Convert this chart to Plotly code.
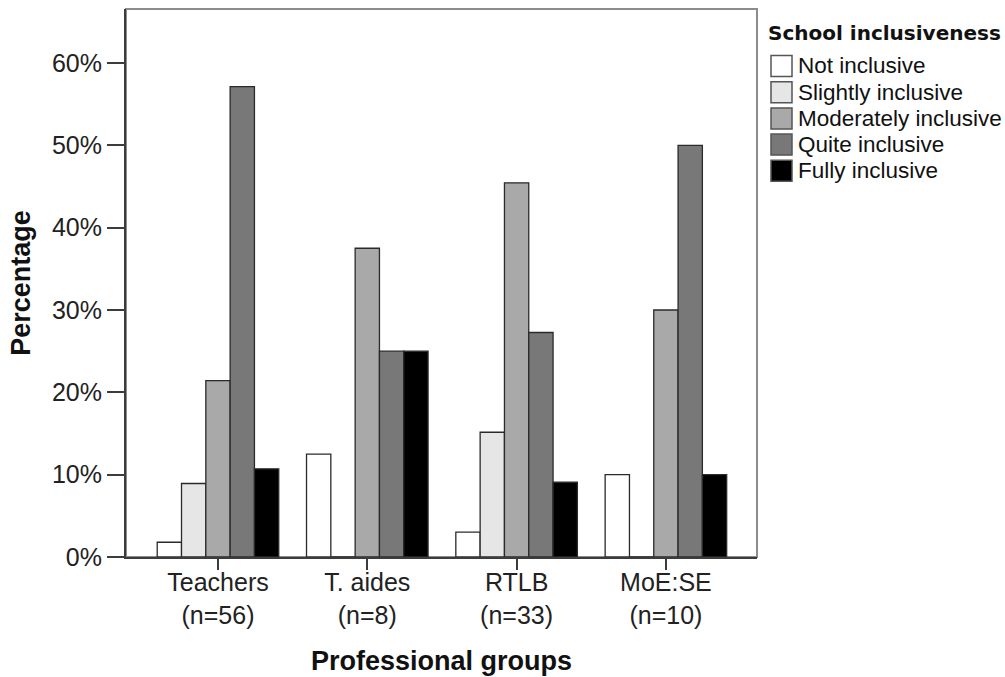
import plotly.graph_objects as go

# ---- data ----
groups = ["Teachers<br>(n=56)", "T. aides<br>(n=8)", "RTLB<br>(n=33)", "MoE:SE<br>(n=10)"]
categories = ["Not inclusive", "Slightly inclusive", "Moderately inclusive",
              "Quite inclusive", "Fully inclusive"]
not_inclusive = [1.79, 12.5, 3.03, 10.0]
slightly_inclusive = [8.93, 0.0, 15.15, 0.0]
moderately_inclusive = [21.43, 37.5, 45.45, 30.0]
quite_inclusive = [57.14, 25.0, 27.27, 50.0]
fully_inclusive = [10.71, 25.0, 9.09, 10.0]
series = [not_inclusive, slightly_inclusive, moderately_inclusive, quite_inclusive, fully_inclusive]
y_ticks = [0, 10, 20, 30, 40, 50, 60]
y_tick_labels = ["0%", "10%", "20%", "30%", "40%", "50%", "60%"]

# ---- style ----
fills = ["#ffffff", "#e6e6e6", "#a9a9a9", "#787878", "#000000"]
W, H = 1005, 677
L, R, T, B = 126, 757, 9, 557
FONT = "Liberation Sans, Arial, sans-serif"

fig = go.Figure()
for name, vals, col in zip(categories, series, fills):
    fig.add_trace(go.Bar(
        x=list(range(len(groups))), y=vals, name=name,
        marker=dict(color=col, line=dict(color="#2a2a2a", width=1.3)),
        showlegend=False,
    ))

def px_x(p):
    return (p - L) / (R - L)

def px_y(p):
    return (B - p) / (B - T)

shapes = [dict(type="rect", xref="paper", yref="paper", x0=0, x1=1, y0=0, y1=1,
               line=dict(color="#8c8c8c", width=2), layer="below")]
annotations = [dict(text="<b>School inclusiveness</b>", xref="paper", yref="paper",
                    x=px_x(766), y=px_y(33), xanchor="left", yanchor="middle",
                    showarrow=False, font=dict(family="DejaVu Sans, Verdana, sans-serif",
                                               size=20, color="#111"))]
for i, (name, col) in enumerate(zip(categories, fills)):
    cy = 66 + i * 26.2
    shapes.append(dict(type="rect", xref="paper", yref="paper",
                       x0=px_x(771), x1=px_x(792), y0=px_y(cy + 10.5), y1=px_y(cy - 10.5),
                       fillcolor=col, line=dict(color="#555", width=1.5)))
    annotations.append(dict(text=name, xref="paper", yref="paper",
                            x=px_x(796), y=px_y(cy), xanchor="left", yanchor="middle",
                            showarrow=False, font=dict(family=FONT, size=22.5, color="#111")))

fig.update_layout(
    width=W, height=H,
    margin=dict(l=L, r=W - R, t=T, b=H - B, pad=0, autoexpand=False),
    paper_bgcolor="white", plot_bgcolor="white",
    barmode="group", bargap=0.186, bargroupgap=0,
    font=dict(family=FONT, size=25, color="#222"),
    shapes=shapes, annotations=annotations,
    xaxis=dict(
        tickmode="array", tickvals=list(range(len(groups))), ticktext=groups,
        range=[-0.616, 3.61], showgrid=False, zeroline=False, automargin=False,
        showline=True, linecolor="#3c3c3c", linewidth=2,
        ticks="outside", ticklen=11, tickwidth=1.5, tickcolor="#3c3c3c",
        ticklabelstandoff=-9,
        tickfont=dict(size=25, color="#222"),
        title=dict(text="<b>Professional groups</b>", font=dict(size=27, color="#111"), standoff=24),
    ),
    yaxis=dict(
        tickmode="array", tickvals=y_ticks, ticktext=y_tick_labels,
        range=[0, 66.56], showgrid=False, zeroline=False, automargin=False,
        showline=True, linecolor="#3c3c3c", linewidth=2,
        ticks="outside", ticklen=17, tickwidth=1.5, tickcolor="#3c3c3c",
        tickfont=dict(size=25, color="#222"),
        title=dict(text="<b>Percentage</b>", font=dict(size=27, color="#111"), standoff=14),
    ),
)

fig.write_html("out.html", config={"displayModeBar": False},
               post_script="document.body.style.margin='0px';")
